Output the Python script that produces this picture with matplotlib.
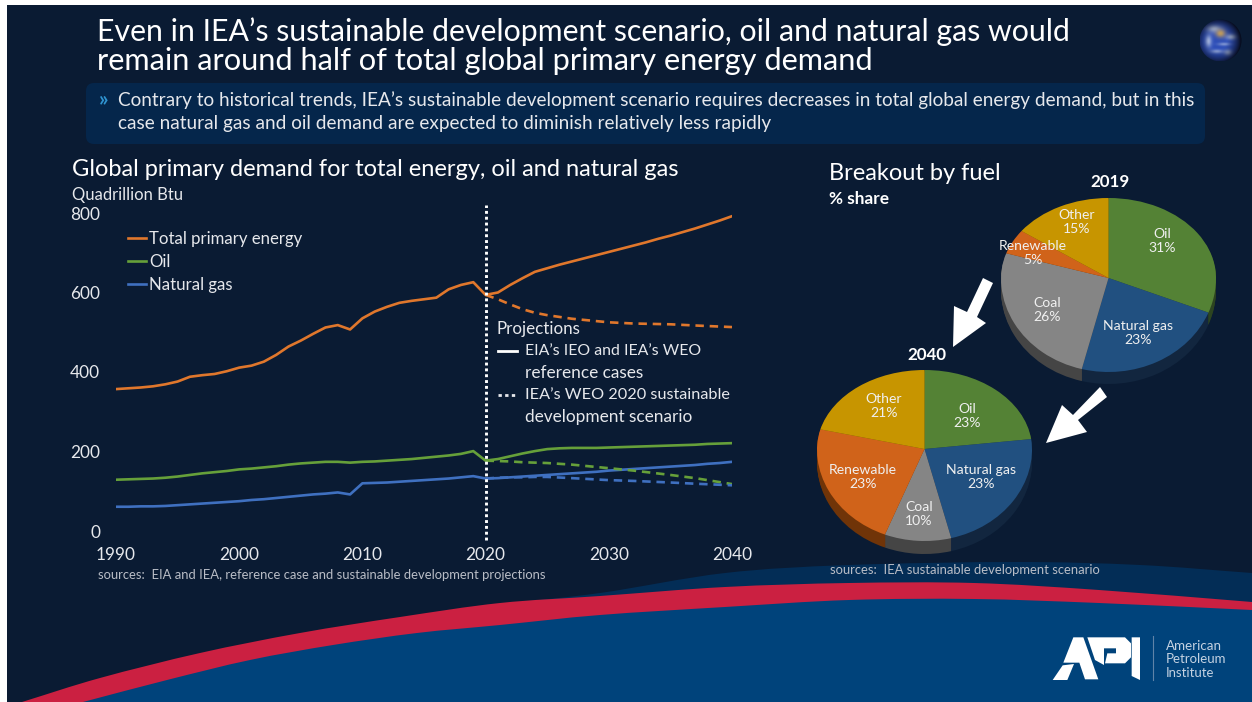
import numpy as np
import matplotlib
matplotlib.use("Agg")
import matplotlib.pyplot as plt
from matplotlib.path import Path
from matplotlib.patches import PathPatch, Polygon, FancyBboxPatch, Rectangle, Circle
from matplotlib.lines import Line2D

plt.rcParams["font.family"] = ["Lato", "DejaVu Sans"]

W, H = 1252, 702

# History and reference-case projections, quadrillion Btu
years = list(range(1990, 2041))
total_reference = [357, 359, 361, 364, 369, 376, 388, 392, 395, 402, 411, 416, 426, 443, 464,
                   479, 496, 512, 518, 507, 535, 552, 564, 574, 579, 583, 587, 608, 619, 626,
                   594, 600, 619, 636, 652, 661, 670, 678, 686, 694, 702, 710, 718, 726, 735,
                   743, 752, 761, 771, 781, 792]
oil_reference = [129, 130, 131, 132, 134, 137, 141, 145, 148, 151, 155, 157, 160, 163, 167,
                 170, 172, 174, 174, 172, 174, 175, 177, 179, 181, 184, 187, 190, 194, 201,
                 177, 181, 188, 195, 201, 206, 208, 209, 209, 209, 210, 211, 212, 213, 214,
                 215, 216, 217, 219, 220, 221]
gas_reference = [61, 61, 62, 62, 63, 65, 67, 69, 71, 73, 75, 78, 80, 83, 86,
                 89, 92, 94, 97, 92, 120, 121, 122, 124, 126, 128, 130, 132, 135, 138,
                 132, 133, 135, 137, 139, 141, 143, 145, 147, 149, 152, 154, 156, 158, 160,
                 162, 164, 166, 169, 171, 174]

# Sustainable development scenario
sds_years = [2020, 2021, 2022, 2023, 2024, 2025, 2027, 2030, 2032, 2035, 2037, 2040]
total_sds = [594, 583, 570, 558, 549, 543, 534, 525, 522, 520, 517, 513]
oil_sds = [177, 176, 175, 173, 172, 171, 167, 158, 152, 141, 133, 118]
gas_sds = [132, 134, 135, 135, 136, 136, 133, 128, 126, 122, 119, 115]

y_ticks = [0, 200, 400, 600, 800]
x_ticks = [1990, 2000, 2010, 2020, 2030, 2040]

# Fuel shares, percent
fuels = ["Oil", "Natural gas", "Coal", "Renewable", "Other"]
share_2019 = [31, 23, 26, 5, 15]
share_2040 = [23, 23, 10, 23, 21]
fuel_colors = ["#548235", "#215080", "#858585", "#d0631a", "#c79500"]
side_colors = ["#2c4420", "#12263f", "#454545", "#703408", "#6b5200"]

ORANGE, GREEN, BLUE = "#e0772c", "#66a03a", "#3f70c0"
NAVY = "#0a1b33"
TEXT = "#e6e8ec"

fig = plt.figure(figsize=(W / 100, H / 100), dpi=100, facecolor="white")


def px_axes(zorder):
    a = fig.add_axes([0, 0, 1, 1], zorder=zorder)
    a.set_xlim(0, W)
    a.set_ylim(H, 0)
    a.axis("off")
    a.patch.set_visible(False)
    return a


def axes_rect(left, top, right, bottom):
    return [left / W, 1 - bottom / H, (right - left) / W, (bottom - top) / H]


def swoosh(points, closing):
    """Catmull-Rom curve through the given points, closed by straight runs."""
    pts = np.asarray(points, float)
    ext = np.vstack([2 * pts[0] - pts[1], pts, 2 * pts[-1] - pts[-2]])
    verts = [tuple(pts[0])]
    codes = [Path.MOVETO]
    for i in range(1, len(ext) - 2):
        verts += [tuple(ext[i] + (ext[i + 1] - ext[i - 1]) / 6),
                  tuple(ext[i + 1] - (ext[i + 2] - ext[i]) / 6),
                  tuple(ext[i + 1])]
        codes += [Path.CURVE4] * 3
    for p in closing:
        verts.append(p)
        codes.append(Path.LINETO)
    verts.append(tuple(pts[0]))
    codes.append(Path.CLOSEPOLY)
    return Path(verts, codes)


# Slide backdrop
bg = px_axes(0)
bg.add_patch(Rectangle((7, 5), W, H, color=NAVY, lw=0))
band = [(500, 604), (600, 593), (725, 573), (849, 565), (1016, 562), (1140, 565), (1252, 573)]
bg.add_patch(PathPatch(swoosh(band, [(1252, 702), (500, 702)]), fc="#032d56", lw=0))
red = [(22, 702), (100, 678), (200, 653), (300, 633), (400, 617), (500, 603), (600, 596), (725, 587),
       (849, 583), (974, 583), (1099, 590), (1252, 602)]
bg.add_patch(PathPatch(swoosh(red, [(1252, 702), (22, 702)]), fc="#cb2041", lw=0))
blue = [(83, 702), (167, 680), (250, 660), (333, 645), (417, 633), (500, 625), (600, 615), (725, 607),
        (849, 600), (974, 599), (1099, 603), (1252, 610)]
bg.add_patch(PathPatch(swoosh(blue, [(1252, 702), (83, 702)]), fc="#00437b", lw=0))
bg.add_patch(FancyBboxPatch((91, 88), 1109, 51, boxstyle="round,pad=5,rounding_size=8",
                            fc="#05264b", lw=0))

# Demand chart
ax = fig.add_axes(axes_rect(116, 213, 732, 531), zorder=2)
ax.patch.set_visible(False)
for s in ax.spines.values():
    s.set_visible(False)
ax.plot(years, total_reference, color=ORANGE, lw=1.9, label="Total primary energy")
ax.plot(years, oil_reference, color=GREEN, lw=1.9, label="Oil")
ax.plot(years, gas_reference, color=BLUE, lw=1.9, label="Natural gas")
dash = (0, (3.2, 2.2))
ax.plot(sds_years, total_sds, color=ORANGE, lw=1.9, ls=dash)
ax.plot(sds_years, oil_sds, color=GREEN, lw=1.9, ls=dash)
ax.plot(sds_years, gas_sds, color=BLUE, lw=1.9, ls=dash)
ax.plot([2020, 2020], [-22, 820], color="white", lw=2.1, ls=(0, (1, 1)), clip_on=False)
ax.set_xlim(1990, 2040)
ax.set_ylim(0, 800)
ax.set_xticks(x_ticks)
ax.set_yticks(y_ticks)
ax.tick_params(length=0, labelcolor=TEXT, labelsize=12.4)
ax.tick_params(axis="x", pad=11.4)
ax.tick_params(axis="y", pad=11.5)
ax.legend(loc="upper left", bbox_to_anchor=((128 - 116) / 616, 1 - (231 - 213) / 318),
          frameon=False, labelcolor=TEXT, fontsize=12.1, handlelength=1.07, handletextpad=0.2,
          labelspacing=0.42, borderpad=0, borderaxespad=0)


# Fuel-share pies, tilted so the near half reads larger than the far half
def tilted_pie(values, cx, cy, rx, up, down, depth):
    front = lambda v: np.where(v > 0, up * v, down * v)
    back = lambda v: np.where(v > 0, v / up, v / down)
    low, high = -1 - (depth + 6) / down, 1.03
    a = fig.add_axes(axes_rect(cx - rx, cy - up * high, cx + rx, cy - down * low), zorder=2)
    a.set_yscale("function", functions=(front, back))
    for step in range(depth, 0, -1):
        a.pie(values, startangle=90, counterclock=False, colors=side_colors,
              center=(0, -step / down), wedgeprops={"lw": 0})
    a.pie(values, startangle=90, counterclock=False, colors=fuel_colors, wedgeprops={"lw": 0})
    a.set_aspect("auto")
    a.set_xlim(-1, 1)
    a.set_ylim(low, high)
    a.patch.set_visible(False)
    a.axis("off")


tilted_pie(share_2019, 1108.5, 278, 107.5, 80, 94, 12)
tilted_pie(share_2040, 924.5, 449, 107.5, 79, 92, 13)

fg = px_axes(5)
renderer = fig.canvas.get_renderer()


def label(x, y, s, px=16, width=None, color=TEXT, ha="left", weight="normal"):
    t = fg.text(x, y, s, fontsize=px * 0.72, color=color, ha=ha, va="center", weight=weight)
    if width:
        t.set_fontsize(t.get_fontsize() * width / t.get_window_extent(renderer).width)
    return t


# Headline and call-out
label(97, 32, "Even in IEA’s sustainable development scenario, oil and natural gas would", width=973, color="white")
label(97, 61, "remain around half of total global primary energy demand", width=776, color="white")
label(99, 99, "»", px=21, color="#2f93d0", weight="bold")
label(118, 100, "Contrary to historical trends, IEA’s sustainable development scenario requires decreases in total "
      "global energy demand, but in this", width=1077)
label(118, 124, "case natural gas and oil demand are expected to diminish relatively less rapidly", width=653)

# Section headings
label(72, 170, "Global primary demand for total energy, oil and natural gas", width=610, color="white")
label(72, 195, "Quadrillion Btu", width=111)
label(829, 174, "Breakout by fuel", width=172, color="white")
label(829, 199, "% share", width=60, color="white", weight="bold")
label(1110, 182, "2019", px=17, color="white", ha="center", weight="bold")
label(927, 355, "2040", px=17, color="white", ha="center", weight="bold")

# Projection key
label(497, 329, "Projections", width=84)
fg.add_line(Line2D([498, 517], [351, 351], color="white", lw=2))
label(525, 351, "EIA’s IEO and IEA’s WEO", width=176)
label(525, 373, "reference cases", width=118)
fg.add_line(Line2D([498, 516], [395, 395], color="#e6e8ec", lw=2, ls=(0, (1.2, 1.2))))
label(525, 395, "IEA’s WEO 2020 sustainable", width=205)
label(525, 417, "development scenario", width=166)

# Sources
label(98, 575, "sources:  EIA and IEA, reference case and sustainable development projections",
      width=449, color="#b9bdc6")
label(830, 570, "sources:  IEA sustainable development scenario", width=270, color="#b9bdc6")

# Pie slice captions
spots_2019 = [(1162, 241), (1138, 333), (1047, 310), (1033, 253), (1077, 222)]
spots_2040 = [(967, 416), (981, 477), (919, 514), (863, 477), (884, 406)]
for spots, shares in ((spots_2019, share_2019), (spots_2040, share_2040)):
    for (x, y), name, v in zip(spots, fuels, shares):
        label(x, y, f"{name}\n{v}%", px=14, ha="center", color="#f0f0f0").set_linespacing(1.12)

# Arrows leading from 2019 to 2040
fg.add_patch(Polygon([(983, 278), (993, 283), (977, 317), (986, 323), (953, 347), (954, 306), (967, 312)],
                     fc="white", lw=0))
fg.add_patch(Polygon([(1100, 387), (1107, 397), (1078, 420), (1087, 432), (1046, 443), (1062, 405), (1073, 415)],
                     fc="white", lw=0))

# Globe emblem: soft cloud and land patches over a shaded blue sphere
gx, gy = np.meshgrid(np.linspace(-1, 1, 90), np.linspace(-1, 1, 90))


def blob(x, y, sx, sy):
    return np.exp(-((gx - x) / sx) ** 2 - ((gy - y) / sy) ** 2)


limb = np.clip(1.15 - 0.8 * np.hypot(gx + 0.15, gy - 0.05) ** 2, 0.15, 1)[..., None]
sphere = limb * np.array([0.17, 0.30, 0.72])
clouds = (0.75 * blob(-0.35, -0.55, 0.35, 0.18) + 0.7 * blob(-0.6, 0.05, 0.16, 0.3)
          + 0.7 * blob(0.5, -0.15, 0.25, 0.14) + 0.6 * blob(0.35, 0.6, 0.2, 0.15)
          + 0.55 * blob(-0.2, 0.55, 0.3, 0.1) + 0.5 * blob(0.15, 0.2, 0.3, 0.08))[..., None]
land = (0.95 * blob(-0.02, -0.32, 0.24, 0.2))[..., None]
sphere = sphere * (1 - np.clip(clouds, 0, 1)) + np.clip(clouds, 0, 1) * np.array([0.82, 0.86, 0.92]) * limb
sphere = sphere * (1 - land) + land * np.array([0.78, 0.62, 0.34])
globe = fg.imshow(np.clip(sphere, 0, 1), extent=(1199.5, 1241.5, 61.5, 19.5), zorder=1, interpolation="bilinear")
globe.set_clip_path(Circle((1220.5, 40.5), 21, transform=fg.transData))
fg.set_xlim(0, W)
fg.set_ylim(H, 0)
fg.set_aspect("auto")

# Association mark
u = lambda pts: [(1030 + x / 3, 620 + y / 3) for x, y in pts]
fg.add_patch(Polygon(u([(130, 52), (160, 52), (205, 178), (165, 178), (148, 128), (100, 128)]), fc="white", lw=0))
fg.add_patch(Polygon(u([(68, 180), (98, 136), (132, 132), (112, 180)]), fc="white", lw=0))
fg.add_patch(Polygon(u([(172, 52), (285, 52), (303, 70), (303, 112), (285, 130), (225, 130), (232, 100), (258, 100),
                        (258, 85), (222, 85), (222, 135), (195, 120)]), fc="white", lw=0))
fg.add_patch(Polygon(u([(305, 52), (330, 52), (330, 180), (305, 168)]), fc="white", lw=0))
fg.add_line(Line2D([1153, 1153], [636, 680], color="#5f83a8", lw=0.8))
label(1166, 646, "American", width=56, color="#c4d2e2")
label(1166, 659, "Petroleum", width=60, color="#c4d2e2")
label(1166, 673, "Institute", width=48, color="#c4d2e2")

fig.savefig("out.png", dpi=100, facecolor="white")
